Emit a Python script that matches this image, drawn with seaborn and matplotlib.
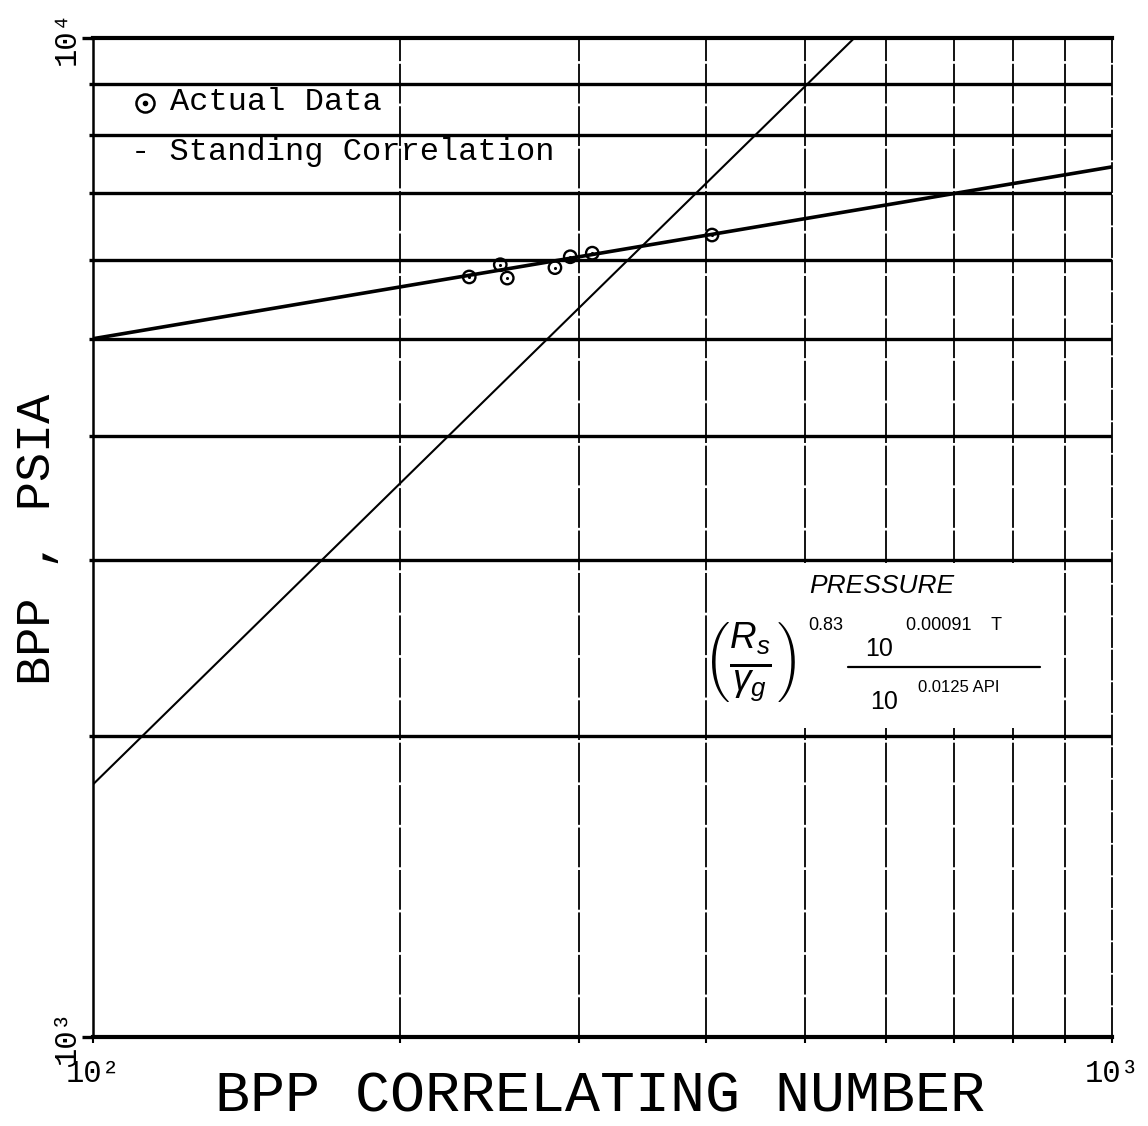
import matplotlib
matplotlib.use("Agg")
import matplotlib.pyplot as plt
import seaborn as sns
from matplotlib.lines import Line2D
from matplotlib.patches import Rectangle
from matplotlib.ticker import LogLocator, NullFormatter

# Measured bubble-point pressures against the correlating number
bpp_number = [234, 251, 255, 284, 294, 309, 405]
bpp_pressure = [5765, 5930, 5750, 5890, 6040, 6090, 6350]

# Straight line through the measured data (log-log)
fit_number = [100, 1000]
fit_pressure = [5000, 7430]

# Standing correlation (unit slope on log-log axes)
standing_number = [100, 1000]
standing_pressure = [1790, 17900]

x_tick_values = [100, 1000]
x_tick_labels = ["10\u00b2", "10\u00b3"]
y_tick_values = [1000, 10000]
y_tick_labels = ["10\u00b3", "10\u2074"]

MONO = ["Liberation Mono", "DejaVu Sans Mono"]
SANS = "Liberation Sans"

sns.set_theme(style="white")
plt.rcParams["mathtext.fontset"] = "custom"
plt.rcParams["mathtext.rm"] = "Liberation Sans"
plt.rcParams["mathtext.it"] = "Liberation Sans:italic"
plt.rcParams["mathtext.bf"] = "Liberation Sans:bold"

W, H = 1148, 1126
fig = plt.figure(figsize=(W / 100, H / 100), dpi=100)
ax = fig.add_axes([93 / W, 1 - 1037 / H, 1019 / W, 999 / H])
ax.set_xscale("log")
ax.set_yscale("log")
ax.set_xlim(100, 1000)
ax.set_ylim(1000, 10000)
ax.set_facecolor("white")

# grid: heavy solid horizontals, light broken verticals
ax.xaxis.set_minor_locator(LogLocator(base=10, subs=range(2, 10)))
ax.yaxis.set_minor_locator(LogLocator(base=10, subs=range(2, 10)))
ax.xaxis.set_minor_formatter(NullFormatter())
ax.yaxis.set_minor_formatter(NullFormatter())
ax.grid(False)
ax.yaxis.grid(True, which="minor", color="black", lw=2.4)
ax.xaxis.grid(True, which="minor", color="black", lw=1.3, linestyle=(0, (22, 1.5)))
ax.set_axisbelow(True)

for side, lw in [("left", 1.8), ("bottom", 3.0), ("top", 3.0), ("right", 1.3)]:
    ax.spines[side].set_visible(True)
    ax.spines[side].set_color("black")
    ax.spines[side].set_linewidth(lw)
ax.spines["right"].set_linestyle((0, (16, 2)))

ax.tick_params(axis="y", which="major", direction="out", length=8, width=2.4,
               color="black", pad=0, left=True)
ax.tick_params(axis="y", which="minor", direction="out", length=3, width=2.4,
               color="black", left=True)
ax.tick_params(axis="x", which="major", direction="out", length=4, width=1.5,
               color="black", pad=12, bottom=True)
ax.tick_params(axis="x", which="minor", direction="out", length=4, width=1.5,
               color="black", bottom=True)

ax.set_xticks(x_tick_values, labels=x_tick_labels)
ax.set_yticks(y_tick_values, labels=y_tick_labels)
for t in ax.get_xticklabels():
    t.set_fontfamily(MONO)
    t.set_fontsize(22)
    t.set_color("black")
for t in ax.get_yticklabels():
    t.set_fontfamily(MONO)
    t.set_fontsize(22)
    t.set_color("black")
    t.set_rotation(90)
    t.set_verticalalignment("center")

# white panel behind the correlating-number definition
ax.add_patch(Rectangle((405, 2040), 893 - 405, 2980 - 2040, facecolor="white",
                       edgecolor="none", zorder=1.5))

sns.lineplot(x=fit_number, y=fit_pressure, ax=ax, color="black", lw=2.6, zorder=4)
sns.lineplot(x=standing_number, y=standing_pressure, ax=ax, color="black", lw=1.5,
             zorder=4)
# data points drawn as a ring with a centre dot
sns.scatterplot(x=bpp_number, y=bpp_pressure, ax=ax, marker="o", s=80,
                facecolor="none", edgecolor="black", linewidth=1.7, zorder=5)
sns.scatterplot(x=bpp_number, y=bpp_pressure, ax=ax, marker="o", s=5,
                color="black", linewidth=0, zorder=5)

# legend entries
lx, ly = (145 - 93) / 1019, (1037 - 103) / 999
ax.plot([lx], [ly], transform=ax.transAxes, marker="o", ms=13, mfc="none",
        mec="black", mew=1.8, linestyle="none", clip_on=False)
ax.plot([lx], [ly], transform=ax.transAxes, marker="o", ms=3, color="black",
        linestyle="none", clip_on=False)
fig.text(170 / W, 1 - 110 / H, "Actual Data", family=MONO, fontsize=23,
         va="baseline", ha="left", color="black")
fig.text(131 / W, 1 - 160 / H, "- Standing Correlation", family=MONO, fontsize=23,
         va="baseline", ha="left", color="black")

# definition of the correlating number
fig.text(882 / W, 1 - 586 / H, "PRESSURE", family=SANS, style="italic",
         fontsize=19, ha="center", va="center", color="black")
fig.text(750 / W, 1 - 662 / H, r"$\left(\frac{R_s}{\gamma_g}\right)$",
         fontsize=38, ha="center", va="center", color="black")
fig.text(826 / W, 1 - 626 / H, "0.83", family=SANS, fontsize=13,
         ha="center", va="center", color="black")
fig.text(879 / W, 1 - 649 / H, "10", family=SANS, fontsize=18,
         ha="center", va="center", color="black")
fig.text(954 / W, 1 - 625 / H, "0.00091    T", family=SANS, fontsize=13,
         ha="center", va="center", color="black")
fig.add_artist(Line2D([848 / W, 1040 / W], [1 - 667 / H, 1 - 667 / H],
                      color="black", lw=1.6))
fig.text(884 / W, 1 - 702 / H, "10", family=SANS, fontsize=18,
         ha="center", va="center", color="black")
fig.text(959 / W, 1 - 687 / H, "0.0125 API", family=SANS, fontsize=12,
         ha="center", va="center", color="black")

# axis titles
ax.set_xlabel("BPP CORRELATING NUMBER", family=MONO, fontsize=42, color="black")
ax.xaxis.set_label_coords((600 - 93) / 1019, (1037 - 1112) / 999)
ax.xaxis.label.set_verticalalignment("baseline")
ax.set_ylabel("BPP , PSIA", family=MONO, fontsize=35, color="black")
ax.yaxis.set_label_coords((50 - 93) / 1019, (1037 - 539) / 999)
ax.yaxis.label.set_verticalalignment("baseline")

fig.savefig("out.png", dpi=100, facecolor="white")
